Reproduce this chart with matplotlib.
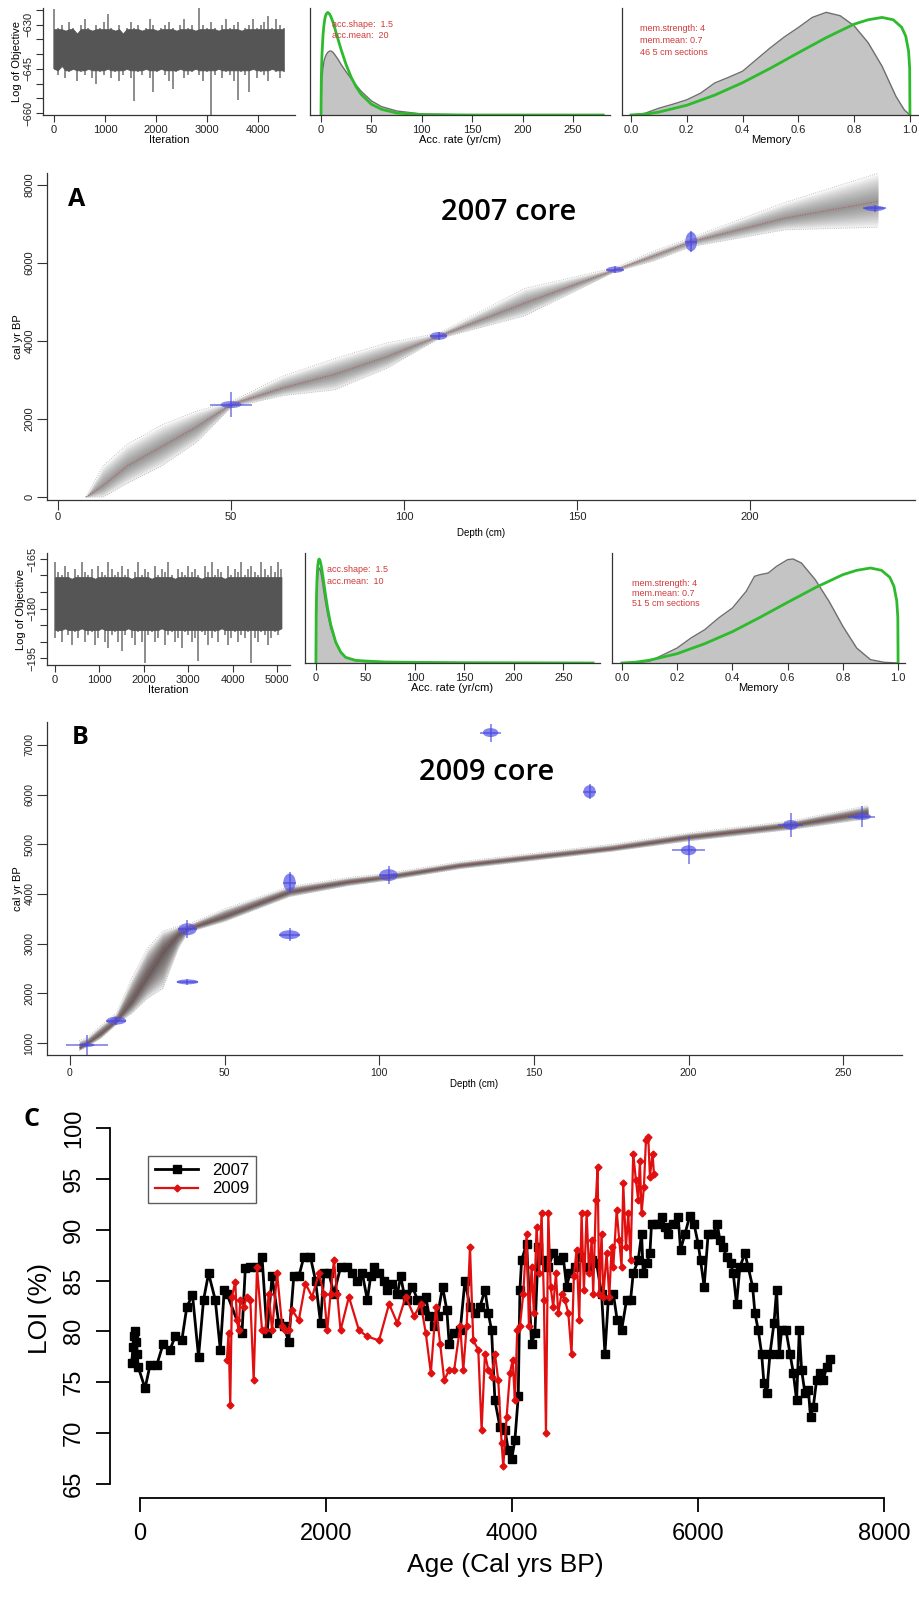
import numpy as np
import matplotlib
matplotlib.use('Agg')
import matplotlib.pyplot as plt
from matplotlib.patches import Ellipse

plt.rcParams['font.family'] = ['Liberation Sans', 'DejaVu Sans']

# ---------------- data ----------------
# MCMC traces (binned envelopes, 75 iterations per bin)
trace1_hi = [-624.5, -631, -630, -632, -629, -631, -633, -630, -628, -631, -632, -630, -631, -629, -626.5, -631,
             -632, -630, -633, -631, -629, -631, -630, -632, -631, -628, -630, -632, -631, -630, -629, -631, -632,
             -630, -628, -631, -630, -632, -624, -630, -631, -629, -631, -632, -630, -628, -631, -630, -629, -632,
             -631, -630, -628, -631, -630, -629, -627, -631, -628, -630, -631]
trace1_lo = [-645, -647, -644, -648, -646, -645, -649, -646, -647, -645, -648, -650, -646, -647, -645, -648, -646,
             -649, -647, -645, -648, -656, -646, -647, -645, -648, -653, -646, -645, -647, -649, -652, -646, -645,
             -648, -647, -646, -645, -647, -649, -646, -661, -647, -645, -648, -646, -647, -649, -655.5, -646, -647,
             -653, -645, -648, -646, -647, -649, -645, -646, -648, -646]
trace2_hi = [-166, -169, -170, -167, -169, -171, -168, -170, -166, -169, -170, -168, -171, -167, -169, -170, -166,
             -168, -170, -169, -167, -170, -168, -171, -169, -166, -170, -168, -169, -171, -167, -170, -168, -169,
             -166, -170, -171, -168, -169, -170, -167, -169, -168, -170, -171, -167, -169, -166, -170, -168, -169,
             -171, -167, -170, -168, -169, -166, -170, -168, -167, -169, -170, -166, -168, -170, -167, -169, -166,
             -168]
trace2_lo = [-189, -187, -190, -186, -188, -191, -187, -189, -186, -190, -188, -187, -191, -189, -186, -190, -192,
             -188, -187, -190, -193, -188, -186, -189, -191, -187, -190, -196.5, -188, -187, -190, -189, -186, -191,
             -188, -187, -190, -189, -192, -187, -188, -190, -189, -196, -187, -188, -191, -189, -187, -190, -186,
             -188, -191, -189, -187, -190, -188, -189, -187, -196.5, -189, -190, -187, -188, -191, -189, -187, -188,
             -186]

# accumulation rate densities (heights in relative units)
acc1_x = [0, 0.3, 0.6, 1, 2, 3, 4, 5, 6.7, 8.5, 10, 12, 14, 17, 20, 25, 30, 35, 40, 50, 60, 75, 100, 150, 280]
acc1_prior = [0, 104, 144, 181, 237, 269, 289, 299, 305, 300, 291, 275, 255, 224, 194, 149, 112, 83, 61, 32, 17, 6,
              1, 0, 0]
acc1_post = [0, 50, 80, 110, 140, 160, 170, 178, 186, 190, 190, 186, 178, 165, 150, 128, 108, 88, 70, 42, 25, 12,
             3, 0, 0]
acc2_x = [0, 0.3, 0.6, 1, 1.5, 2, 2.7, 3.3, 4, 5, 6, 7, 8.5, 10, 12, 15, 20, 25, 30, 40, 50, 70, 100, 150, 280]
acc2_prior = [0, 148, 200, 243, 276, 295, 309, 312, 309, 298, 281, 261, 230, 199, 161, 115, 63, 33, 17, 8, 6, 3,
              2, 1, 0]
acc2_post = [0, 120, 170, 215, 245, 265, 280, 285, 283, 272, 255, 236, 205, 178, 145, 105, 60, 32, 17, 7, 4, 2,
             1, 0, 0]

# memory densities
mem_prior_x = [0, 0.05, 0.1, 0.2, 0.3, 0.4, 0.5, 0.6, 0.7, 0.8, 0.85, 0.9, 0.94, 0.97, 0.985, 0.995, 0.999, 1.0]
mem1_prior = [0, 2.5, 8.6, 29, 59, 96, 139, 185, 230, 270, 283, 290, 283, 261, 234, 190, 139, 0]
mem2_prior = [0, 2.5, 8.4, 28, 58, 94, 137, 182, 226, 265, 278, 285, 278, 257, 230, 187, 137, 0]
mem1_x = [0, 0.05, 0.1, 0.15, 0.2, 0.25, 0.3, 0.35, 0.4, 0.45, 0.5, 0.55, 0.6, 0.65, 0.7, 0.75, 0.8, 0.85, 0.9,
          0.95, 0.98, 1.0]
mem1_post = [0, 5, 20, 32, 45, 65, 95, 112, 130, 165, 200, 232, 260, 290, 305, 295, 265, 215, 145, 55, 15, 0]
mem2_x = [0, 0.05, 0.1, 0.15, 0.2, 0.25, 0.3, 0.35, 0.4, 0.45, 0.48, 0.5, 0.53, 0.56, 0.6, 0.62, 0.65, 0.7, 0.75,
          0.8, 0.85, 0.9, 0.95, 1.0]
mem2_post = [0, 0, 5, 25, 45, 75, 100, 135, 165, 215, 260, 265, 270, 290, 310, 312, 300, 250, 185, 110, 45, 10, 2, 0]

# age-depth models
depthA = [8, 13, 20, 30, 40, 50, 65, 80, 95, 110, 135, 161, 172, 183, 210, 237]
centerA = [0, 300, 800, 1300, 1800, 2380, 2800, 3150, 3600, 4130, 4980, 5830, 6180, 6550, 7150, 7580]
lowerA = [0, 0, 350, 800, 1400, 2300, 2600, 2750, 3300, 4060, 4650, 5780, 6050, 6420, 6850, 6920]
upperA = [0, 800, 1350, 1850, 2200, 2450, 3100, 3550, 3950, 4200, 5350, 5880, 6300, 6650, 7550, 8300]

depthB = [3, 5.5, 10, 15, 20, 25, 30, 35, 38, 50, 71, 90, 103, 126, 150, 175, 200, 233, 258]
centerB = [900, 1000, 1200, 1450, 1850, 2350, 2850, 3200, 3300, 3550, 4050, 4250, 4350, 4580, 4750, 4920, 5150,
           5390, 5650]
lowerB = [850, 930, 1100, 1380, 1600, 1900, 2100, 2900, 3230, 3450, 3950, 4170, 4280, 4510, 4680, 4860, 5070,
          5300, 5520]
upperB = [1050, 1100, 1350, 1600, 2300, 2900, 3250, 3350, 3380, 3700, 4150, 4330, 4420, 4650, 4820, 5000, 5230,
          5470, 5780]

# calibrated dates
datesA_depth = [50, 110, 161, 183, 236]
datesA_age = [2370, 4130, 5830, 6550, 7400]
datesA_bw = [3, 2.5, 2.5, 1.7, 3]
datesA_bh = [90, 100, 80, 250, 70]
datesA_cw = [6, 2.5, 2.5, 1.7, 3.2]
datesA_ch = [320, 110, 90, 280, 80]

datesB_depth = [5.5, 15, 38, 38, 71, 71, 103, 136, 168, 200, 233, 256]
datesB_age = [960, 1450, 3290, 2230, 4230, 3180, 4380, 7250, 6060, 4880, 5390, 5560]
datesB_bw = [2.5, 3.2, 3, 3.5, 2, 3.3, 3, 2.5, 2, 2.5, 2.5, 3]
datesB_bh = [40, 80, 120, 50, 180, 90, 120, 90, 130, 100, 100, 70]
datesB_cw = [6.7, 3.2, 3, 3.5, 2, 3.3, 3, 3.5, 2, 5.4, 4, 4.3]
datesB_ch = [200, 80, 180, 60, 220, 130, 180, 180, 150, 280, 250, 220]

# LOI records
age07 = [-90, -75, -60, -50, -40, -30, -20,
         54, 108, 180, 250, 323, 377, 449, 503, 564, 629,
         683, 737, 809, 863, 906, 934, 1096, 1132, 1186, 1258,
         1312, 1366, 1420, 1492, 1545, 1599, 1653, 1707, 1761, 1833,
         1887, 1941, 1977, 2031, 2085, 2156, 2228, 2282, 2336, 2390,
         2444, 2480, 2516, 2570, 2624, 2660, 2713, 2767, 2803, 2839,
         2875, 2929, 2983, 3037, 3073, 3109, 3163, 3199, 3253, 3299,
         3324, 3378, 3443, 3494, 3548, 3602, 3655, 3709, 3745, 3780,
         3816, 3870, 3924, 3960, 3996, 4031, 4067, 4085, 4103, 4157,
         4210, 4246, 4282, 4336, 4390, 4443, 4497, 4551, 4587, 4622,
         4676, 4730, 4802, 4856, 4909, 4963, 4999, 5035, 5089, 5131,
         5178, 5232, 5275, 5303, 5357, 5393, 5411, 5447, 5483, 5500,
         5554, 5608, 5644, 5680, 5726, 5787, 5812, 5859, 5913, 5956,
         6002, 6027, 6066, 6109, 6163, 6206, 6235, 6271, 6307, 6350,
         6379, 6414, 6450, 6504, 6540, 6587, 6612, 6648, 6684, 6709,
         6738, 6774, 6817, 6845, 6874, 6899, 6946, 6989, 7025, 7060,
         7089, 7114, 7150, 7186, 7211, 7240, 7275, 7311, 7347, 7383,
         7419]
loi07 = [76.9, 78.5, 79.5, 80.0, 79.0, 77.8, 76.5,
         74.4, 76.7, 76.7, 78.8, 78.2, 79.5, 79.1, 82.4, 83.6, 77.5,
         83.1, 85.7, 83.1, 78.2, 84.1, 83.7, 79.8, 86.2, 86.3, 86.3,
         87.3, 79.8, 85.4, 80.8, 80.5, 79.0, 85.4, 85.4, 87.3, 87.3,
         85.0, 80.8, 85.7, 85.7, 83.7, 86.3, 86.3, 85.7, 85.0, 85.7,
         83.1, 85.4, 86.3, 85.7, 85.0, 84.1, 84.7, 83.7, 85.4, 83.7,
         83.1, 84.4, 83.1, 82.1, 83.4, 81.5, 80.5, 81.5, 84.4, 82.1,
         78.8, 79.8, 80.1, 85.0, 82.4, 81.8, 82.4, 84.1, 81.8, 80.1,
         73.2, 70.6, 70.3, 68.3, 67.4, 69.3, 73.6, 84.1, 87.0, 88.6,
         78.8, 79.8, 88.3, 87.0, 86.3, 87.7, 87.0, 87.3, 84.4, 85.7,
         86.3, 87.3, 86.3, 87.0, 86.7, 83.7, 77.8, 83.1, 83.7, 81.1,
         80.1, 83.1, 83.1, 85.7, 87.0, 89.6, 85.7, 86.7, 87.7, 90.6,
         90.6, 91.3, 90.3, 89.6, 90.6, 91.3, 88.0, 89.6, 91.4, 90.6,
         88.6, 87.0, 84.4, 89.6, 89.6, 90.6, 89.0, 88.3, 87.3, 86.7,
         85.7, 82.7, 86.3, 87.7, 86.3, 84.4, 81.8, 80.1, 77.8, 74.9,
         73.9, 77.8, 80.8, 84.1, 77.8, 80.1, 80.1, 77.8, 75.9, 73.2,
         80.1, 76.2, 73.9, 74.2, 71.6, 72.6, 75.2, 75.9, 75.2, 76.5,
         77.3]
age09 = [934, 952, 970, 988, 1024, 1042, 1060, 1078, 1114, 1150,
         1186, 1222, 1258, 1312, 1348, 1384, 1420, 1474, 1528, 1564,
         1599, 1635, 1707, 1779, 1851, 1923, 1977, 2013, 2049, 2085,
         2120, 2156, 2246, 2354, 2444, 2570, 2678, 2767, 2857, 2947,
         3019, 3073, 3127, 3181, 3227, 3271, 3324, 3378, 3443, 3476,
         3512, 3548, 3583, 3637, 3673, 3709, 3745, 3780, 3816, 3852,
         3888, 3906, 3942, 3978, 4007, 4031, 4056, 4085, 4121, 4157,
         4182, 4210, 4235, 4264, 4292, 4318, 4343, 4365, 4390, 4415,
         4443, 4472, 4497, 4533, 4569, 4605, 4640, 4665, 4694, 4723,
         4748, 4773, 4802, 4830, 4856, 4873, 4902, 4920, 4938, 4963,
         4981, 5017, 5046, 5071, 5089, 5125, 5153, 5178, 5196, 5225,
         5250, 5275, 5303, 5332, 5357, 5375, 5393, 5418, 5440, 5465,
         5483, 5511, 5526]
loi09 = [77.2, 79.8, 72.8, 83.4, 84.9, 81.1, 80.1, 83.1, 82.4, 83.4,
         83.1, 75.2, 86.3, 80.1, 80.1, 83.7, 80.1, 85.7, 80.5, 80.1,
         80.1, 82.1, 81.1, 84.7, 83.4, 85.7, 83.7, 80.1, 83.7, 87.0,
         83.7, 80.1, 83.4, 80.1, 79.5, 79.1, 82.7, 80.8, 83.4, 81.5,
         82.7, 79.8, 75.9, 82.4, 78.8, 75.2, 76.2, 76.2, 80.5, 76.2,
         80.5, 88.3, 79.1, 78.2, 70.3, 77.8, 76.2, 75.5, 77.8, 75.2,
         69.0, 66.7, 71.6, 75.9, 77.2, 73.2, 80.1, 80.5, 83.7, 89.6,
         80.5, 86.3, 81.8, 90.3, 85.7, 91.6, 83.1, 70.0, 91.6, 84.4,
         82.4, 85.7, 81.8, 83.7, 83.1, 81.8, 77.8, 85.4, 88.0, 81.1,
         91.6, 84.1, 91.6, 85.7, 89.0, 83.7, 92.9, 96.2, 83.7, 89.6,
         83.4, 87.7, 83.4, 88.3, 86.3, 91.9, 89.0, 86.3, 94.6, 88.3,
         91.6, 87.0, 97.5, 94.9, 92.9, 96.8, 91.6, 94.2, 98.8, 99.1,
         95.2, 97.5, 95.5]

# ---------------- layout helpers ----------------
W, H = 920, 1621
fig = plt.figure(figsize=(W / 100, H / 100), dpi=100)

AXC = '#333333'
TXT_RED = '#d03a3a'


def add_ax(l, t, r, b):
    return fig.add_axes([l / W, 1 - b / H, (r - l) / W, (b - t) / H])


def r_style(ax, ticklen=5, fs=8):
    for s in ['top', 'right']:
        ax.spines[s].set_visible(False)
    for s in ['left', 'bottom']:
        ax.spines[s].set_color(AXC)
        ax.spines[s].set_linewidth(0.9)
    ax.tick_params(direction='out', length=ticklen, width=0.8, color=AXC, labelcolor='#222222',
                   labelsize=fs, pad=2)
    ax.tick_params(which='minor', direction='out', length=ticklen, width=0.8, color=AXC)
    ax.set_facecolor('none')


def rot_y(ax):
    for lab in ax.get_yticklabels():
        lab.set_rotation(90)
        lab.set_va('center')


def trace_panel(ax, hi, lo, core, xmax, ylim, yticks, yminor, xticks):
    n = min(len(hi), len(lo))
    it = np.arange(n) * 75
    hi = np.asarray(hi[:n])
    lo = np.asarray(lo[:n])
    # spikes as thin lines, the dense body of the chain as a solid block on top
    ax.vlines(it, lo, hi, color='#6e6e6e', lw=1.1, zorder=1)
    ax.fill_between(it, np.maximum(lo, core[0]), np.minimum(hi, core[1]), facecolor='#555555', lw=0.6,
                    edgecolor='#555555', zorder=2)
    ax.set_xlim(*xmax)
    ax.set_ylim(*ylim)
    ax.set_yticks(yticks)
    ax.set_yticks(yminor, minor=True)
    ax.set_xticks(xticks)
    r_style(ax)
    rot_y(ax)
    ax.set_xlabel('Iteration', fontsize=8, labelpad=0)
    ax.set_ylabel('Log of Objective', fontsize=8, labelpad=1)


def density_panel(ax, px, prior, qx, post, xlim, ylim, xticks, fmt):
    ax.fill_between(qx, 0, post, color='#c4c4c4', lw=0)
    ax.plot(qx, post, color='#6e6e6e', lw=1)
    ax.plot(px, prior, color='#2dbb2d', lw=2)
    ax.set_xlim(*xlim)
    ax.set_ylim(*ylim)
    ax.set_yticks([])
    ax.set_xticks(xticks)
    ax.set_xticklabels([fmt.format(v) for v in xticks])
    r_style(ax)


def age_depth(ax, d, c, lo, hi, shade, nlay, alpha):
    d, c, lo, hi = map(np.asarray, (d, c, lo, hi))
    for f in np.linspace(1, 0.06, nlay):
        ax.fill_between(d, c - f * (c - lo), c + f * (hi - c), color=shade, alpha=alpha, lw=0)
    ax.plot(d, lo, ':', color='#b0b0b0', lw=0.6)
    ax.plot(d, hi, ':', color='#b0b0b0', lw=0.6)
    ax.plot(d, c, ':', color='#d05050', lw=0.7)


def draw_dates(ax, dep, age, bw, bh, cw, ch):
    ax.errorbar(dep, age, xerr=cw, yerr=ch, fmt='none', ecolor='#4747e0', elinewidth=1.1, alpha=0.75,
                capsize=0)
    for x, y, w, h in zip(dep, age, bw, bh):
        ax.add_patch(Ellipse((x, y), 2 * w, 2 * h, color='#5050e6', alpha=0.7, lw=0))


# ---------------- row 1: 2007 core diagnostics ----------------
ax = add_ax(43, 8, 295, 115)
trace_panel(ax, trace1_hi, trace1_lo, (-645.5, -631.5), (-216, 4725), (-660.7, -624.3), [-630, -645, -660],
            np.arange(-660, -624, 5), [0, 1000, 2000, 3000, 4000])

ax = add_ax(310, 8, 610, 115)
density_panel(ax, acc1_x, acc1_prior, acc1_x, acc1_post, (-10.9, 286.7), (0, 318), [0, 50, 100, 150, 200, 250],
              '{:d}')
ax.set_xlabel('Acc. rate (yr/cm)', fontsize=8, labelpad=0)
ax.text(11, 268, 'acc.shape:  1.5', color=TXT_RED, fontsize=6.5, va='center')
ax.text(11, 236, 'acc.mean:  20', color=TXT_RED, fontsize=6.5, va='center')

ax = add_ax(622, 8, 920, 115)
density_panel(ax, mem_prior_x, mem1_prior, mem1_x, mem1_post, (-0.032, 1.036), (0, 318),
              [0, 0.2, 0.4, 0.6, 0.8, 1.0], '{:.1f}')
ax.set_xlabel('Memory', fontsize=8, labelpad=0)
for txt, h in zip(['mem.strength: 4', 'mem.mean: 0.7', '46 5 cm sections'], [258, 222, 186]):
    ax.text(0.033, h, txt, color=TXT_RED, fontsize=6.5, va='center')

# ---------------- panel A ----------------
ax = add_ax(47, 173, 915, 500)
age_depth(ax, depthA, centerA, lowerA, upperA, '#3c3c3c', 16, 0.045)
draw_dates(ax, datesA_depth, datesA_age, datesA_bw, datesA_bh, datesA_cw, datesA_ch)
ax.set_xlim(-3.2, 247.7)
ax.set_ylim(-77, 8308)
ax.set_xticks([0, 50, 100, 150, 200])
ax.set_yticks([0, 2000, 4000, 6000, 8000])
r_style(ax, ticklen=7)
rot_y(ax)
ax.set_xlabel('Depth (cm)', fontsize=7, labelpad=4)
ax.set_ylabel('cal yr BP', fontsize=8)
ax.yaxis.set_label_coords(-0.028, 0.5)
fig.text(77 / W, 1 - 200 / H, 'A', fontsize=18, fontweight='bold', ha='center', va='center',
         family=['Open Sans', 'DejaVu Sans'])
fig.text(509 / W, 1 - 213 / H, '2007 core', fontsize=21, fontweight='semibold', ha='center', va='center',
         family=['Open Sans', 'DejaVu Sans'])

# ---------------- row 2: 2009 core diagnostics ----------------
ax = add_ax(47, 553, 290, 665)
trace_panel(ax, trace2_hi, trace2_lo, (-186.5, -170.5), (-180, 5293), (-197.1, -163.2), [-165, -180, -195],
            np.arange(-195, -164, 5), [0, 1000, 2000, 3000, 4000, 5000])

ax = add_ax(305, 553, 600, 663)
density_panel(ax, acc2_x, acc2_prior, acc2_x, acc2_post, (-11, 287), (0, 330), [0, 50, 100, 150, 200, 250],
              '{:d}')
ax.set_xlabel('Acc. rate (yr/cm)', fontsize=8, labelpad=0)
ax.text(11, 280, 'acc.shape:  1.5', color=TXT_RED, fontsize=6.5, va='center')
ax.text(11, 246, 'acc.mean:  10', color=TXT_RED, fontsize=6.5, va='center')

ax = add_ax(612, 553, 905, 663)
density_panel(ax, mem_prior_x, mem2_prior, mem2_x, mem2_post, (-0.036, 1.025), (0, 330),
              [0, 0.2, 0.4, 0.6, 0.8, 1.0], '{:.1f}')
ax.set_xlabel('Memory', fontsize=8, labelpad=0)
for txt, h in zip(['mem.strength: 4', 'mem.mean: 0.7', '51 5 cm sections'], [237, 207, 177]):
    ax.text(0.036, h, txt, color=TXT_RED, fontsize=6.5, va='center')

# ---------------- panel B ----------------
ax = add_ax(47, 722, 902, 1055)
age_depth(ax, depthB, centerB, lowerB, upperB, '#3a3030', 16, 0.085)
draw_dates(ax, datesB_depth, datesB_age, datesB_bw, datesB_bh, datesB_cw, datesB_ch)
ax.set_xlim(-7.4, 269)
ax.set_ylim(758, 7463)
ax.set_xticks([0, 50, 100, 150, 200, 250])
ax.set_yticks([1000, 2000, 3000, 4000, 5000, 6000, 7000])
r_style(ax, ticklen=7, fs=7.5)
rot_y(ax)
ax.set_xlabel('Depth (cm)', fontsize=7, labelpad=1)
ax.set_ylabel('cal yr BP', fontsize=8)
ax.yaxis.set_label_coords(-0.028, 0.5)
fig.text(80 / W, 1 - 738 / H, 'B', fontsize=18, fontweight='bold', ha='center', va='center',
         family=['Open Sans', 'DejaVu Sans'])
fig.text(487 / W, 1 - 772 / H, '2009 core', fontsize=21, fontweight='semibold', ha='center', va='center',
         family=['Open Sans', 'DejaVu Sans'])

# ---------------- panel C: LOI ----------------
ax = add_ax(110, 1120, 900, 1498)
ax.plot(age07, loi07, color='black', lw=2, marker='s', ms=6, label='2007')
ax.plot(age09, loi09, color='#e01010', lw=1.6, marker='D', ms=3.5, label='2009')
ax.set_xlim(-323, 8172)
ax.set_ylim(63.6, 100.8)
for s in ['top', 'right']:
    ax.spines[s].set_visible(False)
ax.spines['left'].set_bounds(65, 100)
ax.spines['bottom'].set_bounds(0, 8000)
for s in ['left', 'bottom']:
    ax.spines[s].set_linewidth(1.3)
ax.set_xticks([0, 2000, 4000, 6000, 8000])
ax.set_yticks(np.arange(65, 101, 5))
ax.tick_params(direction='out', length=10, width=1.3, labelsize=17, pad=8)
rot_y(ax)
ax.set_xlabel('Age (Cal yrs BP)', fontsize=19, labelpad=6)
ax.set_ylabel('LOI (%)', fontsize=19, labelpad=8)
leg = ax.legend(loc='upper left', bbox_to_anchor=(30 / 790, 1 - 28 / 378), fontsize=12, frameon=True,
                fancybox=False, edgecolor='#333333', handlelength=2.6, borderpad=0.4, labelspacing=0.2)
leg.get_frame().set_linewidth(1)
fig.text(32 / W, 1 - 1119 / H, 'C', fontsize=18, fontweight='bold', ha='center', va='center',
         family=['Open Sans', 'DejaVu Sans'])

fig.savefig('out.png', dpi=100)
